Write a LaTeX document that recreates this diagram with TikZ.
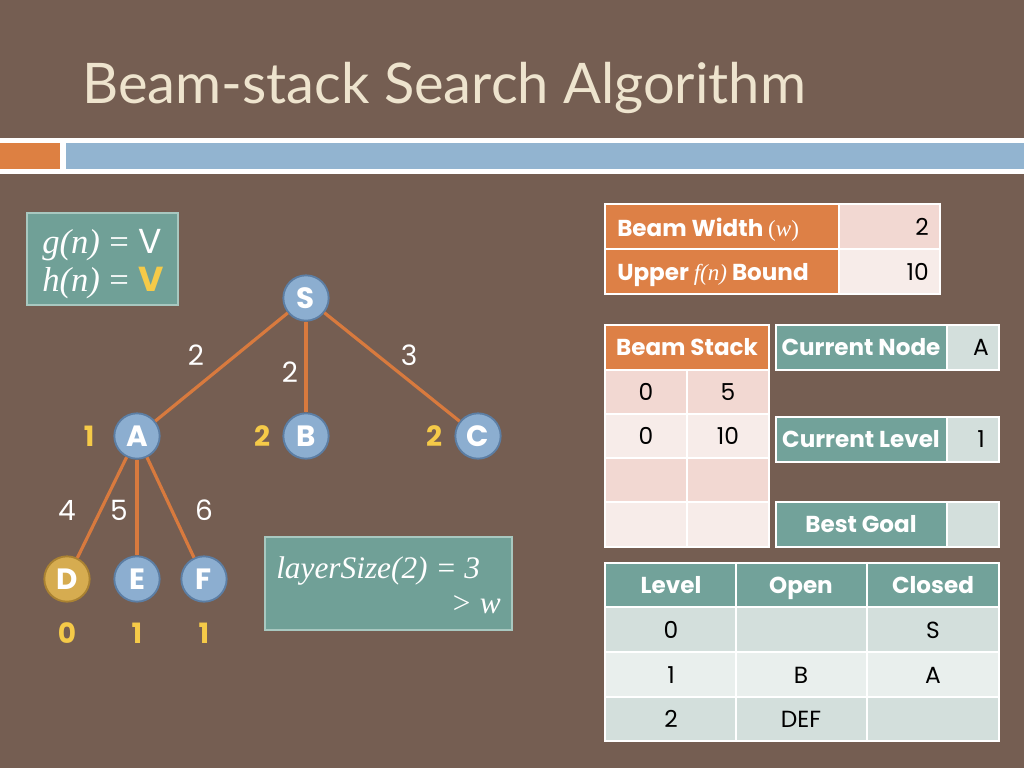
\documentclass[tikz,border=0pt]{standalone}
\usepackage{fontspec}
\setmainfont{Poppins}
\newfontfamily\titlefont{Lato}
\newfontfamily\timesfont{Liberation Serif}
\usetikzlibrary{positioning}

\definecolor{bgbrown}{RGB}{117,94,82}
\definecolor{titletxt}{RGB}{238,228,206}
\definecolor{barblue}{RGB}{146,180,208}
\definecolor{barorange}{RGB}{221,128,66}
\definecolor{edgeorange}{RGB}{216,122,62}
\definecolor{nodeblue}{RGB}{140,174,208}
\definecolor{nodeline}{RGB}{92,126,164}
\definecolor{nodegold}{RGB}{214,172,80}
\definecolor{goldline}{RGB}{170,130,50}
\definecolor{numyellow}{RGB}{245,202,72}
\definecolor{boxteal}{RGB}{112,160,151}
\definecolor{boxline}{RGB}{168,200,192}
\definecolor{tblorange}{RGB}{221,128,70}
\definecolor{tblteal}{RGB}{114,162,154}
\definecolor{pinkA}{RGB}{242,216,210}
\definecolor{pinkB}{RGB}{247,236,233}
\definecolor{tealA}{RGB}{211,223,220}
\definecolor{tealB}{RGB}{233,239,237}

\tikzset{
  treenode/.style={circle, fill=nodeblue, draw=nodeline, line width=1.4pt, minimum size=34pt, inner sep=0pt, text=white, font=\bfseries\fontsize{22}{22}\selectfont},
  goalnode/.style={treenode, fill=nodegold, draw=goldline},
  edge/.style={draw=edgeorange, line width=2.4pt},
  cost/.style={text=white, inner sep=0pt, font=\fontsize{21}{21}\selectfont},
  hval/.style={text=numyellow, inner sep=0pt, font=\bfseries\fontsize{21}{21}\selectfont},
  cell/.style={draw=white, line width=1.2pt},
  headtext/.style={text=white, inner sep=0pt, text depth=0pt, font=\bfseries\fontsize{17.3}{17.3}\selectfont},
  celltext/.style={text=black, inner sep=0pt, text depth=0pt, font=\fontsize{17.5}{17.5}\selectfont},
  notebox/.style={fill=boxteal, draw=boxline, line width=1pt}
}

\begin{document}
\begin{tikzpicture}[x=0.75pt,y=0.75pt,yscale=-1,xscale=1]
%background
\fill[bgbrown] (0,0) rectangle (1024,768);
\useasboundingbox (0,0) rectangle (1024,768);

%Title
\node[anchor=base west, inner sep=0pt, text=titletxt, font=\titlefont\fontsize{42}{42}\selectfont] (title) at (82,103) {Beam-stack Search Algorithm};

%Header bar
\fill[white] (0,138) rectangle (1024,174);
\fill[barorange] (0,143) rectangle (60,169);
\fill[barblue] (66,143) rectangle (1024,169);

%g(n), h(n) box
\path[notebox] (27,213) rectangle (178,305);
\node[anchor=base west, inner sep=0pt, text=white, font=\fontsize{26}{26}\selectfont] (gline) at (42,253) {{\timesfont\itshape g(n)} {\timesfont =} V};
\node[anchor=base west, inner sep=0pt, text=white, font=\fontsize{26}{26}\selectfont] (hline) at (42,291) {{\timesfont\itshape h(n)} {\timesfont =} \textcolor{numyellow}{\bfseries V}};

%Tree nodes
\node[treenode] (S) at (306,298) {S};
\node[treenode] (A) at (137,436) {A};
\node[treenode] (B) at (306,436) {B};
\node[treenode] (C) at (478,436) {C};
\node[goalnode] (D) at (67,579) {D};
\node[treenode] (E) at (137,579) {E};
\node[treenode] (F) at (204,579) {F};

%Edges
\draw[edge] (S) -- (A);
\draw[edge] (S) -- (B);
\draw[edge] (S) -- (C);
\draw[edge] (A) -- (D);
\draw[edge] (A) -- (E);
\draw[edge] (A) -- (F);

%Edge costs
\node[cost] (cSA) at (196,355) {2};
\node[cost] (cSB) at (290,372) {2};
\node[cost] (cSC) at (409,355) {3};
\node[cost] (cAD) at (67,510) {4};
\node[cost] (cAE) at (119,510) {5};
\node[cost] (cAF) at (204,510) {6};

%Heuristic values
\node[hval, left=14pt of A] (hA) {1};
\node[hval, left=9pt of B] (hB) {2};
\node[hval, left=9pt of C] (hC) {2};
\node[hval, below=15pt of D] (hD) {0};
\node[hval, below=15pt of E] (hE) {1};
\node[hval, below=15pt of F] (hF) {1};

%layerSize box
\path[notebox] (265,537) rectangle (512,630);
\node[anchor=base west, inner sep=0pt, text=white, font=\timesfont\itshape\fontsize{23.5}{23.5}\selectfont] (layer) at (276,578) {layerSize(2) = 3};
\node[anchor=base east, inner sep=0pt, text=white, font=\timesfont\itshape\fontsize{23.5}{23.5}\selectfont] (gtw) at (501,613) {> w};

%Beam width / upper bound table
\path[cell, fill=tblorange] (605,204) rectangle (839,249);
\path[cell, fill=pinkA] (839,204) rectangle (940,249);
\path[cell, fill=tblorange] (605,249) rectangle (839,294);
\path[cell, fill=pinkB] (839,249) rectangle (940,294);
\node[headtext, anchor=west] (bwl) at (617,227) {Beam Width {\timesfont\mdseries(\textit{w})}};
\node[celltext, anchor=east] (bwv) at (929,227) {2};
\node[headtext, anchor=west] (ubl) at (617,272) {Upper {\timesfont\itshape\mdseries f(n)} Bound};
\node[celltext, anchor=east] (ubv) at (929,272) {10};

%Beam stack table
\path[cell, fill=tblorange] (605,325) rectangle (769,370);
\path[cell, fill=pinkA] (605,370) rectangle (687,414);
\path[cell, fill=pinkA] (687,370) rectangle (769,414);
\path[cell, fill=pinkB] (605,414) rectangle (687,458);
\path[cell, fill=pinkB] (687,414) rectangle (769,458);
\path[cell, fill=pinkA] (605,458) rectangle (687,502);
\path[cell, fill=pinkA] (687,458) rectangle (769,502);
\path[cell, fill=pinkB] (605,502) rectangle (687,547);
\path[cell, fill=pinkB] (687,502) rectangle (769,547);
\node[headtext] (bsl) at (687,347) {Beam Stack};
\node[celltext] (bs1a) at (646,392) {0};
\node[celltext] (bs1b) at (728,392) {5};
\node[celltext] (bs2a) at (646,436) {0};
\node[celltext] (bs2b) at (728,436) {10};

%Current node / level / best goal
\path[cell, fill=tblteal] (776,325) rectangle (947,370);
\path[cell, fill=tealA] (947,325) rectangle (999,370);
\node[headtext] (cnl) at (861,347) {Current Node};
\node[celltext] (cnv) at (981,347) {A};
\path[cell, fill=tblteal] (776,417) rectangle (947,462);
\path[cell, fill=tealA] (947,417) rectangle (999,462);
\node[headtext] (cll) at (861,439) {Current Level};
\node[celltext] (clv) at (981,439) {1};
\path[cell, fill=tblteal] (776,502) rectangle (947,547);
\path[cell, fill=tealA] (947,502) rectangle (999,547);
\node[headtext] (bgl) at (861,524) {Best Goal};

%Level / open / closed table
\path[cell, fill=tblteal] (605,563) rectangle (736,607);
\path[cell, fill=tblteal] (736,563) rectangle (867,607);
\path[cell, fill=tblteal] (867,563) rectangle (999,607);
\path[cell, fill=tealA] (605,607) rectangle (736,652);
\path[cell, fill=tealA] (736,607) rectangle (867,652);
\path[cell, fill=tealA] (867,607) rectangle (999,652);
\path[cell, fill=tealB] (605,652) rectangle (736,697);
\path[cell, fill=tealB] (736,652) rectangle (867,697);
\path[cell, fill=tealB] (867,652) rectangle (999,697);
\path[cell, fill=tealA] (605,697) rectangle (736,741);
\path[cell, fill=tealA] (736,697) rectangle (867,741);
\path[cell, fill=tealA] (867,697) rectangle (999,741);
\node[headtext] (lvh) at (671,585) {Level};
\node[headtext] (oph) at (801,585) {Open};
\node[headtext] (clh) at (933,585) {Closed};
\node[celltext] (lv0) at (671,630) {0};
\node[celltext] (cl0) at (933,630) {S};
\node[celltext] (lv1) at (671,675) {1};
\node[celltext] (op1) at (801,675) {B};
\node[celltext] (cl1) at (933,675) {A};
\node[celltext] (lv2) at (671,719) {2};
\node[celltext] (op2) at (801,719) {DEF};

\end{tikzpicture}
\end{document}
